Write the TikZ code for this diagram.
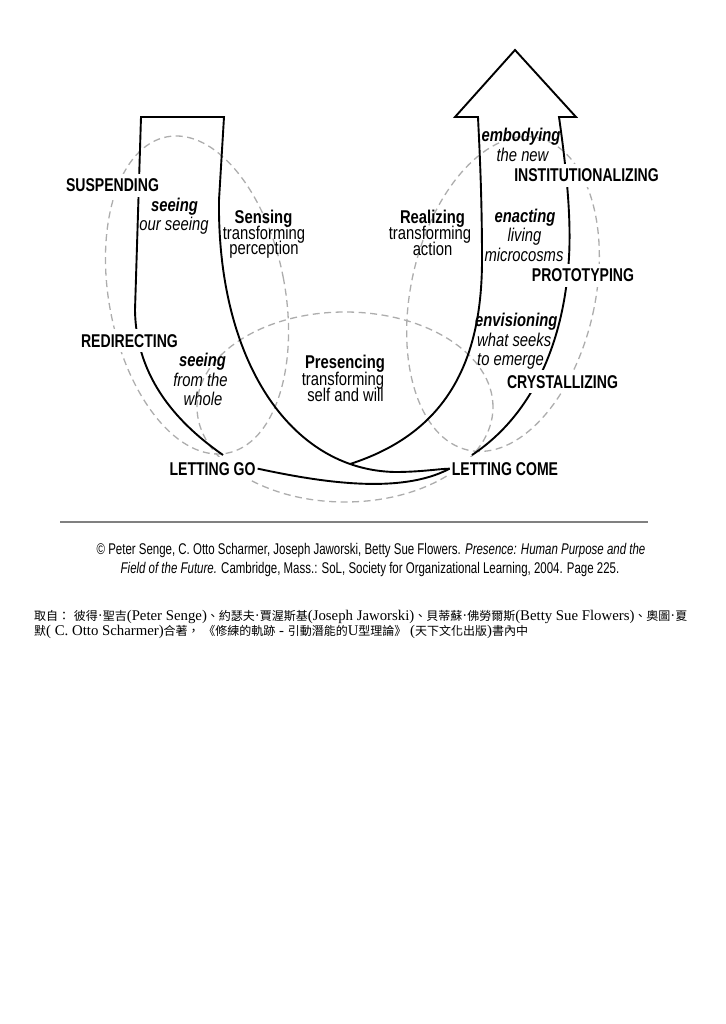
\documentclass[tikz,border=0pt]{standalone}
\usepackage{fontspec}
\usetikzlibrary{backgrounds}
\setmainfont{Liberation Serif}
\newfontfamily\capsfont[FakeStretch=0.76]{Liberation Sans}
\newfontfamily\txtfont[FakeStretch=0.80]{Liberation Sans}
\newfontfamily\creditfont[FakeStretch=0.74]{Liberation Sans}
\newfontfamily\cjk{Noto Sans CJK TC}
\newcommand\zh[1]{{\cjk\fontsize{12}{12}\selectfont #1}}
\begin{document}
\begin{tikzpicture}[x=1pt,y=-1pt,
  uline/.style={draw=black, line width=1.9pt, line join=miter},
  fieldline/.style={draw=black!32, line width=1.3pt, dash pattern=on 7pt off 4.5pt},
  capslabel/.style={font=\capsfont\bfseries\fontsize{18.5}{18.5}\selectfont, fill=white, inner xsep=2pt, inner ysep=5pt, anchor=base},
  txt/.style={font=\txtfont\fontsize{18.5}{18.5}\selectfont, inner sep=0pt, anchor=base},
  txtb/.style={txt, font=\txtfont\bfseries\fontsize{18.5}{18.5}\selectfont},
  txti/.style={txt, font=\txtfont\itshape\fontsize{18.5}{18.5}\selectfont},
  txtbi/.style={txt, font=\txtfont\bfseries\itshape\fontsize{18.5}{18.5}\selectfont},
  credit/.style={font=\creditfont\fontsize{15.5}{15.5}\selectfont, inner sep=0pt, anchor=base},
  zhline/.style={font=\fontsize{14.8}{14.8}\selectfont, inner sep=0pt, anchor=base west},
]
\useasboundingbox (0,0) rectangle (725,1024);

% caps labels
\node[capslabel] (susp) at (112.5,192) {SUSPENDING};
\node[capslabel] (redir) at (129.5,347) {REDIRECTING};
\node[capslabel] (lgo) at (212.5,475) {LETTING GO};
\node[capslabel] (lcome) at (505,475) {LETTING COME};
\node[capslabel] (inst) at (586.5,181.7) {INSTITUTIONALIZING};
\node[capslabel] (proto) at (583,281.7) {PROTOTYPING};
\node[capslabel] (cryst) at (562.5,388) {CRYSTALLIZING};

% inner texts
\node[txtbi] (s1a) at (174.5,211.7) {seeing};
\node[txti] (s1b) at (174,231) {our seeing};
\node[txtb] (sen1) at (263.5,223.3) {Sensing};
\node[txt] (sen2) at (264,239.3) {transforming};
\node[txt] (sen3) at (264,254.5) {perception};
\node[txtbi] (s2a) at (202.5,366.7) {seeing};
\node[txti] (s2b) at (200.5,386) {from the};
\node[txti] (s2c) at (203,405) {whole};
\node[txtb] (pre1) at (345,368.3) {Presencing};
\node[txt] (pre2) at (343,385) {transforming};
\node[txt] (pre3) at (345.5,401.7) {self and will};
\node[txtb] (rea1) at (432.5,223.3) {Realizing};
\node[txt] (rea2) at (430,239.3) {transforming};
\node[txt] (rea3) at (432.5,255) {action};
\node[txtbi] (emb1) at (521,141.7) {embodying};
\node[txti] (emb2) at (522.5,161.7) {the new};
\node[txtbi] (ena1) at (525,222.7) {enacting};
\node[txti] (ena2) at (524.5,241.7) {living};
\node[txti] (ena3) at (524,261) {microcosms};
\node[txtbi, anchor=base west] (env1) at (475,326.7) {envisioning};
\node[txti, anchor=base west] (env2) at (477,346) {what seeks};
\node[txti, anchor=base west] (env3) at (477,365) {to emerge};

\begin{scope}[on background layer]
% fields of attention
\draw[fieldline, rotate around={10.75:(197,295)}] (197,295) ellipse [x radius=88pt, y radius=161pt];
\draw[fieldline, rotate around={-12.6:(503,294)}] (503,294) ellipse [x radius=92pt, y radius=160pt];
\draw[fieldline] (345,407) ellipse [x radius=148pt, y radius=95pt];
% left branch of the U
\draw[uline] (223,455) .. controls (180,425) and (136,380) .. (135,310) -- (141,117) -- (224,117) -- (219,200)
  .. controls (217,360) and (290,470) .. (395,472) .. controls (420,472) and (438,469) .. (lcome.west);
% right branch, arrow
\draw[uline] (350,464) .. controls (440,435) and (482,370) .. (482,260) .. controls (482,190) and (479,140) .. (478,117)
  -- (455,117) -- (515,50) -- (576,117) -- (559,117)
  .. controls (568,180) and (572,230) .. (568,270) .. controls (563,330) and (540,410) .. (472,455);
% lower link
\draw[uline] (lgo.east) .. controls (320,482) and (400,495) .. (lcome.west);
\end{scope}

% rule
\draw[line width=2.7pt, black!50] (60,522) -- (648,522);

% credits
\node[credit] (cr1) at (371,554) {© Peter Senge, C. Otto Scharmer, Joseph Jaworski, Betty Sue Flowers. \textit{Presence: Human Purpose and the}};
\node[credit] (cr2) at (370,573.3) {\textit{Field of the Future.} Cambridge, Mass.: SoL, Society for Organizational Learning, 2004. Page 225.};

\node[zhline] (zh1) at (34,620.3) {\zh{取自：}\ \zh{彼得}·\zh{聖吉}(Peter Senge)\zh{、約瑟夫}·\zh{賈渥斯基}(Joseph Jaworski)\zh{、貝蒂蘇}·\zh{佛勞爾斯}(Betty Sue Flowers)\zh{、奧圖}·\zh{夏}};
\node[zhline] (zh2) at (34,635) {\zh{默}( C. Otto Scharmer)\zh{合著，}\ \zh{《修練的軌跡} - \zh{引動潛能的}U\zh{型理論》}\ (\zh{天下文化出版})\zh{書內中}};
\end{tikzpicture}
\end{document}
